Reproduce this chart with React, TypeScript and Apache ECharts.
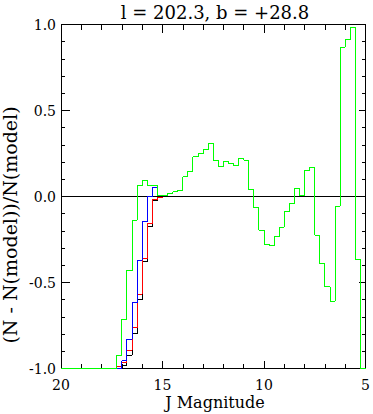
import React, { useEffect, useRef } from "react";
import * as echarts from "echarts";

// Bin edges in J magnitude (bright end last)
const binEdges = [
  20, 17.25, 17.0, 16.75, 16.5, 16.25, 16.0, 15.75, 15.5, 15.25, 15.0,
  14.75, 14.5, 14.25, 14.0, 13.75, 13.5, 13.25, 13.0, 12.75, 12.5, 12.25,
  12.0, 11.75, 11.5, 11.25, 11.0, 10.75, 10.5, 10.25, 10.0, 9.75, 9.5,
  9.25, 9.0, 8.75, 8.5, 8.25, 8.0, 7.75, 7.5, 7.25, 7.0, 6.75, 6.5, 6.25,
  6.0, 5.75, 5.5, 5.25, 5.0,
];

const greenValues = [
  -1.0, -0.923, -0.713, -0.43, -0.138, 0.062, 0.095, 0.066, 0.066, 0.007,
  0.007, 0.017, 0.027, 0.035, 0.114, 0.145, 0.23, 0.248, 0.273, 0.308,
  0.211, 0.176, 0.205, 0.192, 0.182, 0.221, 0.211, 0.041, -0.064, -0.196,
  -0.279, -0.285, -0.233, -0.178, -0.087, -0.043, 0.046, 0.005, 0.153, 0.17,
  -0.225, -0.39, -0.526, -0.609, -0.056, 0.868, 0.914, 0.984, -0.366, -1.0,
];
const blueValues = [-1.0, -1.0, -0.955, -0.831, -0.616, -0.37, -0.148, -0.002, 0.052, 0.007];
const redValues = [-1.0, -0.99, -0.963, -0.894, -0.763, -0.568, -0.36, -0.157, -0.02, -0.003];
const blackValues = [-1.0, -1.0, -0.98, -0.923, -0.798, -0.6, -0.38, -0.175, -0.025, -0.003];

const xTicks = [20, 15, 10, 5];
const yTicks = [-1.0, -0.5, 0.0, 0.5, 1.0];
const titleText = "l = 202.3, b = +28.8";
const xTitle = "J Magnitude";
const yTitle = "(N - N(model))/N(model)";

const FONT = "'DejaVu Serif', 'Liberation Serif', serif";

function stepPoints(values: number[]) {
  const pts: number[][] = [];
  values.forEach((v, i) => {
    pts.push([binEdges[i], v]);
    pts.push([binEdges[i + 1], v]);
  });
  return pts;
}

function makeX(position: "bottom" | "top", labels: boolean) {
  return {
    type: "value",
    position,
    min: xTicks[xTicks.length - 1],
    max: xTicks[0],
    interval: 5,
    inverse: true,
    axisLine: { show: true, onZero: false, lineStyle: { color: "#000", width: 1 } },
    axisTick: { show: true, inside: true, length: 8, lineStyle: { color: "#000", width: 1 } },
    minorTick: { show: true, splitNumber: 5, length: 5, lineStyle: { color: "#000", width: 1 } },
    splitLine: { show: false },
    minorSplitLine: { show: false },
    axisLabel: {
      show: labels,
      margin: 9,
      color: "#000",
      fontSize: 14,
      fontFamily: FONT,
      formatter: (v: number) => String(v),
    },
  };
}

function makeY(position: "left" | "right", labels: boolean, tickLen: number) {
  return {
    type: "value",
    position,
    min: yTicks[0],
    max: yTicks[yTicks.length - 1],
    interval: 0.5,
    axisLine: { show: true, onZero: false, lineStyle: { color: "#000", width: 1 } },
    axisTick: { show: true, inside: true, length: tickLen, lineStyle: { color: "#000", width: 1 } },
    minorTick: { show: true, splitNumber: 5, length: 4, lineStyle: { color: "#000", width: 1 } },
    splitLine: { show: false },
    minorSplitLine: { show: false },
    axisLabel: {
      show: labels,
      margin: 5,
      color: "#000",
      fontSize: 14,
      fontFamily: FONT,
      formatter: (v: number) => v.toFixed(1),
    },
  };
}

function stepSeries(name: string, values: number[], color: string) {
  return {
    name,
    type: "line",
    data: stepPoints(values),
    symbol: "none",
    showSymbol: false,
    lineStyle: { color, width: 1 },
    itemStyle: { color },
    xAxisIndex: 0,
    yAxisIndex: 0,
    silent: true,
    z: 3,
  };
}

export default function App() {
  const ref = useRef<HTMLDivElement>(null);
  useEffect(() => {
    if (!ref.current) return;
    const chart = echarts.init(ref.current, undefined, { renderer: "svg" });
    chart.setOption({
      animation: false,
      backgroundColor: "#fff",
      grid: { left: 61, top: 24.5, width: 308, height: 344 },
      xAxis: [makeX("bottom", true), makeX("top", false)],
      yAxis: [makeY("left", true, 9), makeY("right", false, 7)],
      series: [
        {
          name: "zero",
          type: "line",
          data: [
            [xTicks[0], 0],
            [xTicks[xTicks.length - 1], 0],
          ],
          symbol: "none",
          lineStyle: { color: "#000", width: 1 },
          silent: true,
          z: 2,
        },
        stepSeries("black", blackValues, "#000000"),
        stepSeries("red", redValues, "#ff0000"),
        stepSeries("blue", blueValues, "#0000ff"),
        stepSeries("green", greenValues, "#00ff00"),
      ],
      graphic: [
        {
          type: "text",
          x: 215,
          y: 12,
          style: {
            text: titleText,
            fill: "#000",
            font: `18px ${FONT}`,
            textAlign: "center",
            textVerticalAlign: "middle",
            align: "center",
            verticalAlign: "middle",
          },
        },
        {
          type: "text",
          x: 215,
          y: 402,
          style: {
            text: xTitle,
            fill: "#000",
            font: `16px ${FONT}`,
            textAlign: "center",
            textVerticalAlign: "middle",
            align: "center",
            verticalAlign: "middle",
          },
        },
        {
          type: "text",
          x: 10,
          y: 225,
          rotation: Math.PI / 2,
          style: {
            text: yTitle,
            fill: "#000",
            font: `19px ${FONT}`,
            textAlign: "center",
            textVerticalAlign: "middle",
            align: "center",
            verticalAlign: "middle",
          },
        },
      ],
    });
    const svg = ref.current.querySelector("svg");
    if (svg) svg.setAttribute("shape-rendering", "crispEdges");
    return () => chart.dispose();
  }, []);
  return (
    <div
      ref={ref}
      style={{ position: "fixed", left: 0, top: 0, width: 373, height: 414, background: "#fff" }}
    />
  );
}
